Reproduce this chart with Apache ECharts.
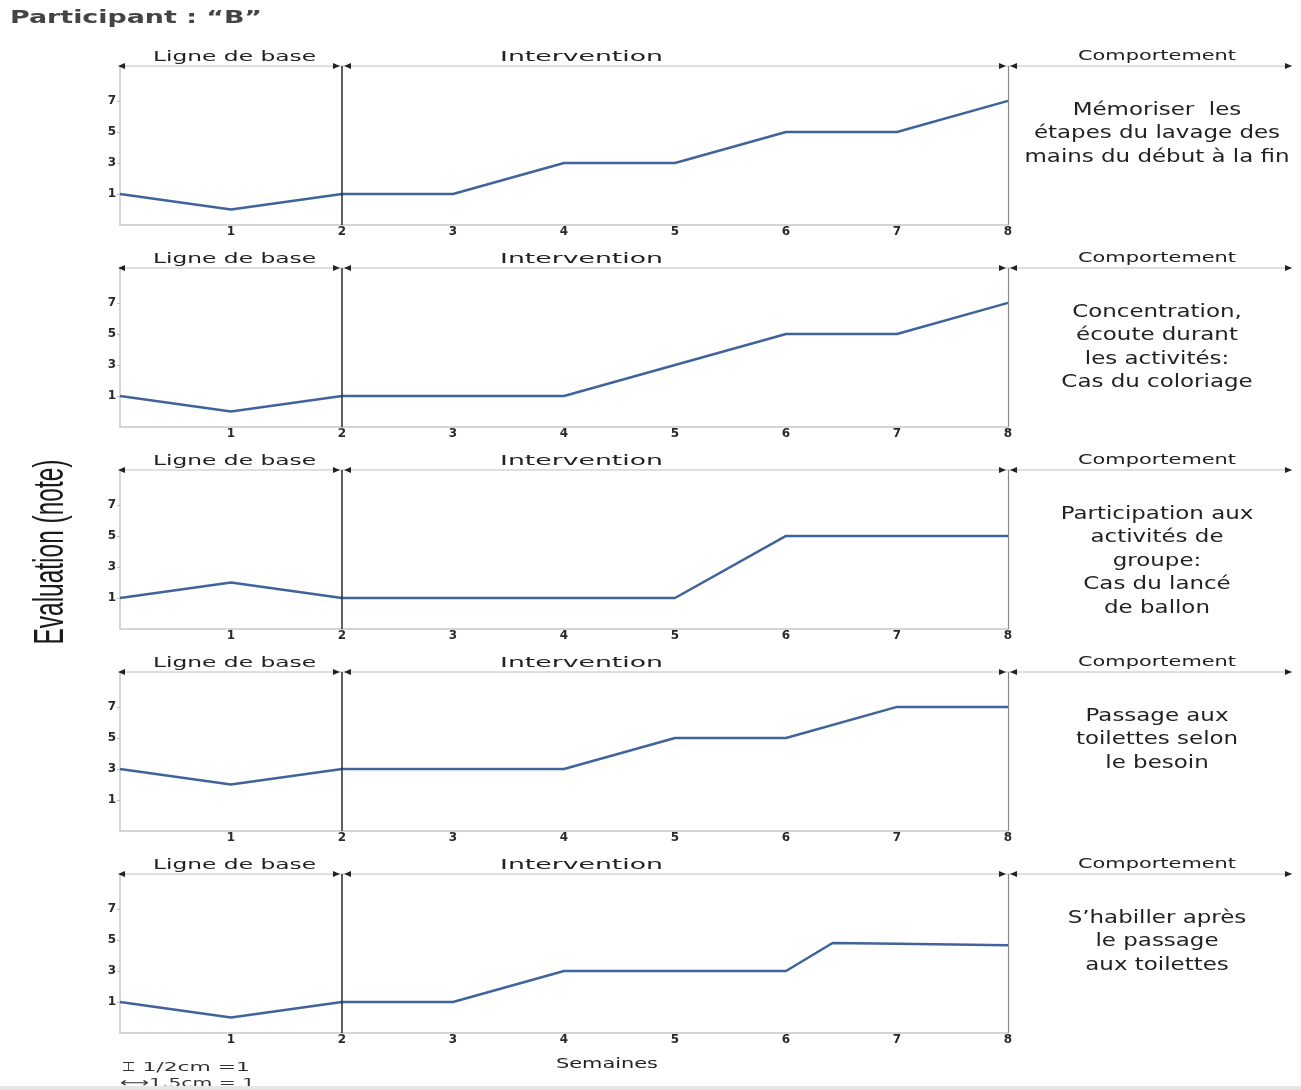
<!DOCTYPE html>
<html><head><meta charset="utf-8">
<script src="https://cdn.jsdelivr.net/npm/echarts@6/dist/echarts.min.js"></script>
<style>html,body{margin:0;padding:0;background:#fff}#c{width:1301px;height:1090px}</style>
</head><body><div id="c"></div>
<script>
// ---- data ----
const weeks = [0,1,2,3,4,5,6,7,8];
const memoriser = [1,0,1,1,3,3,5,5,7];
const concentration = [1,0,1,1,1,3,5,5,7];
const participation = [1,2,1,1,1,1,5,5,5];
const toilettes = [3,2,3,3,3,5,5,7,7];
const habillerWeeks = [0,1,2,3,4,5,6,6.42,7,8];
const habiller = [1,0,1,1,3,3,3,4.8,4.75,4.65];
const yTicks = [1,3,5,7];
const xTicks = [1,2,3,4,5,6,7,8];
const phaseLabels = ['Ligne de base','Intervention','Comportement'];
const behaviours = [
  ['Mémoriser  les','étapes du lavage des','mains du début à la fin'],
  ['Concentration,','écoute durant','les activités:','Cas du coloriage'],
  ['Participation aux','activités de','groupe:','Cas du lancé','de ballon'],
  ['Passage aux','toilettes selon','le besoin'],
  ['S’habiller après','le passage','aux toilettes']
];
const titleText = 'Participant : “B”';
const yTitle = 'Evaluation (note)';
const xTitle = 'Semaines';
const scaleNotes = ['⌶ 1/2cm =1','⟷1.5cm = 1'];
const phaseChange = 2;
const lastWeek = 8;

const panels = [
  {x: weeks, y: memoriser},
  {x: weeks, y: concentration},
  {x: weeks, y: participation},
  {x: weeks, y: toilettes},
  {x: habillerWeeks, y: habiller}
];

// ---- layout ----
const GL = 120, GW = 888, GT0 = 66, GH = 159, STEP = 202;
const FONT = '"DejaVu Sans", Verdana, sans-serif';
const ctx = document.createElement('canvas').getContext('2d');
function textW(t, font){ ctx.font = font; return ctx.measureText(t).width; }
function stretched(t, x, y, size, weight, target, align, color, z){
  const f = weight + ' ' + size + 'px ' + FONT;
  const s = target ? target / textW(t, f) : 1;
  return {type:'text', x:x, y:y, scaleX:s, z: z||10, silent:true,
    style:{text:t, x:0, y:0, font:f, fill:color||'#333',
      textAlign:align||'left', align:align||'left', textVerticalAlign:'middle', verticalAlign:'middle'}};
}

const grids = [], xAxes = [], yAxes = [], series = [], graphics = [];
const xPhase = GL + GW * phaseChange / lastWeek;
const xEnd = GL + GW;
const xRight = 1292;

panels.forEach((p, i) => {
  const top = GT0 + STEP * i;
  grids.push({left: GL, top: top, width: GW, height: GH, containLabel: false});
  xAxes.push({type:'value', gridIndex:i, min:0, max:lastWeek, interval:1,
    axisLine:{show:true, onZero:false, lineStyle:{color:'#c8c8c8', width:1.5}},
    axisTick:{show:false}, splitLine:{show:false},
    axisLabel:{show:true, margin:1, color:'#2a2a2a', fontSize:12, fontWeight:'bold', fontFamily:FONT,
      customValues: xTicks, formatter: v => (xTicks.indexOf(v) >= 0 ? String(v) : '')}});
  yAxes.push({type:'value', gridIndex:i, min:-1, max:9.25,
    axisLine:{show:true, onZero:false, lineStyle:{color:'#c8c8c8', width:1.5}},
    axisTick:{show:true, length:3, lineStyle:{color:'#bbb'}, customValues: yTicks},
    splitLine:{show:false},
    axisLabel:{show:true, margin:4, color:'#2a2a2a', fontSize:12, fontWeight:'bold', fontFamily:FONT,
      customValues: yTicks, formatter: v => String(v)}});
  series.push({type:'line', xAxisIndex:i, yAxisIndex:i, symbol:'none', silent:true,
    lineStyle:{color:'#41639b', width:2.5},
    data: p.x.map((xv, j) => [xv, p.y[j]]),
    markLine:{silent:true, symbol:'none', label:{show:false},
      data:[{xAxis:phaseChange, lineStyle:{color:'#2a2a2a', width:1.5, type:'solid'}},
            {xAxis:lastWeek, lineStyle:{color:'#8a8a8a', width:1.2, type:'solid'}}]}});

  // header line with arrows
  graphics.push({type:'line', silent:true, z:5, shape:{x1:GL, y1:top, x2:xRight, y2:top},
    style:{stroke:'#d4d4d4', lineWidth:1.5}});
  const a = 3, L = 7;
  const tri = pts => ({type:'polygon', silent:true, z:6, shape:{points:pts}, style:{fill:'#222'}});
  graphics.push(tri([[GL-2, top],[GL-2+L, top-a],[GL-2+L, top+a]]));
  [xPhase, xEnd].forEach(px => {
    graphics.push(tri([[px-9, top-a],[px-2, top],[px-9, top+a]]));
    graphics.push(tri([[px+2, top],[px+9, top-a],[px+9, top+a]]));
  });
  graphics.push(tri([[xRight-L, top-a],[xRight, top],[xRight-L, top+a]]));

  // phase labels
  const hy = top - 9;
  graphics.push(stretched(phaseLabels[0], 234.5, hy, 14, 'normal', 163, 'center', '#222'));
  graphics.push(stretched(phaseLabels[1], 581.5, hy, 14, 'normal', 163, 'center', '#222'));
  graphics.push(stretched(phaseLabels[2], 1157, hy - 1, 14, 'normal', 158, 'center', '#222'));

  // behaviour description
  const ref = 'mains du début à la fin';
  const f = 'normal 18px ' + FONT;
  const sc = 265 / textW(ref, f);
  behaviours[i].forEach((line, k) => {
    graphics.push({type:'text', x:1157, y: top + 44 + k * 23.6, scaleX: sc, z:10, silent:true,
      style:{text:line, x:0, y:0, font:f, fill:'#222', textAlign:'center', align:'center',
        textVerticalAlign:'middle', verticalAlign:'middle'}});
  });
});

// title
graphics.push(stretched(titleText, 10, 19, 17, 'bold', 252, 'left', '#444'));
// y title (rotated)
(function(){
  const f = 'normal 28px "Liberation Sans", Arial, sans-serif';
  const s = 185 / textW(yTitle, f);
  graphics.push({type:'text', x:51, y:552, rotation:Math.PI/2, scaleX:s, scaleY:1.5, z:10, silent:true,
    style:{text:yTitle, x:0, y:0, font:f, fill:'#1a1a1a', textAlign:'center', align:'center',
      textVerticalAlign:'middle', verticalAlign:'middle'}});
})();
// x title
graphics.push(stretched(xTitle, 607, 1064, 14, 'normal', 102, 'center', '#222'));
// scale notes
graphics.push(stretched(scaleNotes[0], 122, 1068, 13, 'normal', 128, 'left', '#333'));
graphics.push(stretched(scaleNotes[1], 120, 1084, 13, 'normal', 135, 'left', '#333'));
graphics.push({type:'rect', silent:true, z:20, shape:{x:0, y:1086, width:1301, height:4}, style:{fill:'#e6e6e6'}});

const chart = echarts.init(document.getElementById('c'), null, {renderer:'canvas'});
chart.setOption({
  animation:false,
  backgroundColor:'#fff',
  grid: grids, xAxis: xAxes, yAxis: yAxes, series: series,
  graphic: {elements: graphics}
});
</script>
</body></html>
